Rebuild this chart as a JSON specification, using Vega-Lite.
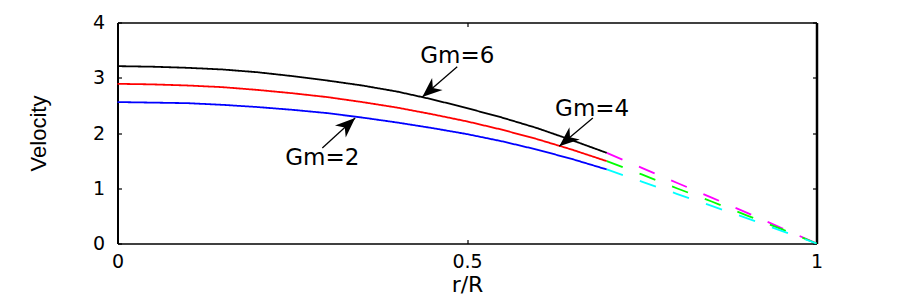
{
  "$schema": "https://vega.github.io/schema/vega-lite/v6.json",
  "width": 699,
  "height": 221,
  "autosize": {"type": "none"},
  "padding": {"left": 117.5, "top": 22.5, "right": 83.5, "bottom": 56.5},
  "background": "white",
  "config": {"view": {"stroke": null}},
  "datasets": {
    "curves": [
      {"curve": "Gm=6", "r": 0, "v": 3.21}, {"curve": "Gm=6", "r": 0.05, "v": 3.2}, {"curve": "Gm=6", "r": 0.1, "v": 3.18}, {"curve": "Gm=6", "r": 0.15, "v": 3.15}, {"curve": "Gm=6", "r": 0.2, "v": 3.1}, {"curve": "Gm=6", "r": 0.25, "v": 3.03}, {"curve": "Gm=6", "r": 0.3, "v": 2.95}, {"curve": "Gm=6", "r": 0.35, "v": 2.86}, {"curve": "Gm=6", "r": 0.4, "v": 2.75}, {"curve": "Gm=6", "r": 0.45, "v": 2.61}, {"curve": "Gm=6", "r": 0.5, "v": 2.45}, {"curve": "Gm=6", "r": 0.55, "v": 2.28}, {"curve": "Gm=6", "r": 0.6, "v": 2.09}, {"curve": "Gm=6", "r": 0.65, "v": 1.87}, {"curve": "Gm=6", "r": 0.7, "v": 1.64},
      {"curve": "Gm=4", "r": 0, "v": 2.89}, {"curve": "Gm=4", "r": 0.05, "v": 2.88}, {"curve": "Gm=4", "r": 0.1, "v": 2.86}, {"curve": "Gm=4", "r": 0.15, "v": 2.83}, {"curve": "Gm=4", "r": 0.2, "v": 2.78}, {"curve": "Gm=4", "r": 0.25, "v": 2.72}, {"curve": "Gm=4", "r": 0.3, "v": 2.65}, {"curve": "Gm=4", "r": 0.35, "v": 2.56}, {"curve": "Gm=4", "r": 0.4, "v": 2.46}, {"curve": "Gm=4", "r": 0.45, "v": 2.34}, {"curve": "Gm=4", "r": 0.5, "v": 2.21}, {"curve": "Gm=4", "r": 0.55, "v": 2.06}, {"curve": "Gm=4", "r": 0.6, "v": 1.89}, {"curve": "Gm=4", "r": 0.65, "v": 1.7}, {"curve": "Gm=4", "r": 0.7, "v": 1.49},
      {"curve": "Gm=2", "r": 0, "v": 2.56}, {"curve": "Gm=2", "r": 0.05, "v": 2.55}, {"curve": "Gm=2", "r": 0.1, "v": 2.54}, {"curve": "Gm=2", "r": 0.15, "v": 2.51}, {"curve": "Gm=2", "r": 0.2, "v": 2.47}, {"curve": "Gm=2", "r": 0.25, "v": 2.42}, {"curve": "Gm=2", "r": 0.3, "v": 2.36}, {"curve": "Gm=2", "r": 0.35, "v": 2.28}, {"curve": "Gm=2", "r": 0.4, "v": 2.19}, {"curve": "Gm=2", "r": 0.45, "v": 2.09}, {"curve": "Gm=2", "r": 0.5, "v": 1.98}, {"curve": "Gm=2", "r": 0.55, "v": 1.85}, {"curve": "Gm=2", "r": 0.6, "v": 1.7}, {"curve": "Gm=2", "r": 0.65, "v": 1.53}, {"curve": "Gm=2", "r": 0.7, "v": 1.34},
      {"curve": "Gm=6 extension", "r": 0.7, "v": 1.64}, {"curve": "Gm=6 extension", "r": 0.75, "v": 1.37}, {"curve": "Gm=6 extension", "r": 0.8, "v": 1.1}, {"curve": "Gm=6 extension", "r": 0.85, "v": 0.83}, {"curve": "Gm=6 extension", "r": 0.9, "v": 0.56}, {"curve": "Gm=6 extension", "r": 0.95, "v": 0.28}, {"curve": "Gm=6 extension", "r": 1, "v": 0},
      {"curve": "Gm=4 extension", "r": 0.7, "v": 1.49}, {"curve": "Gm=4 extension", "r": 0.75, "v": 1.25}, {"curve": "Gm=4 extension", "r": 0.8, "v": 1.0}, {"curve": "Gm=4 extension", "r": 0.85, "v": 0.76}, {"curve": "Gm=4 extension", "r": 0.9, "v": 0.51}, {"curve": "Gm=4 extension", "r": 0.95, "v": 0.26}, {"curve": "Gm=4 extension", "r": 1, "v": 0},
      {"curve": "Gm=2 extension", "r": 0.7, "v": 1.34}, {"curve": "Gm=2 extension", "r": 0.75, "v": 1.12}, {"curve": "Gm=2 extension", "r": 0.8, "v": 0.9}, {"curve": "Gm=2 extension", "r": 0.85, "v": 0.68}, {"curve": "Gm=2 extension", "r": 0.9, "v": 0.46}, {"curve": "Gm=2 extension", "r": 0.95, "v": 0.23}, {"curve": "Gm=2 extension", "r": 1, "v": 0}
    ],
    "notes": [
      {"label": "Gm=6", "tx": 0.486, "ty": 3.4, "x1": 0.486, "y1": 3.2, "x2": 0.436, "y2": 2.65},
      {"label": "Gm=4", "tx": 0.679, "ty": 2.43, "x1": 0.68, "y1": 2.27, "x2": 0.632, "y2": 1.76},
      {"label": "Gm=2", "tx": 0.293, "ty": 1.55, "x1": 0.293, "y1": 1.73, "x2": 0.34, "y2": 2.27}
    ],
    "frame": [{"x": 0, "y": 0}]
  },
  "layer": [
    {
      "layer": [
        {
          "data": {"name": "curves"},
          "mark": {"type": "line", "strokeWidth": 1.8, "clip": false},
          "encoding": {
            "x": {"field": "r", "type": "quantitative", "scale": {"domain": [0, 1]},
              "axis": {"values": [0, 0.5, 1], "format": "~g", "labelFlush": false, "grid": false,
                "domainColor": "black", "domainWidth": 1.5, "tickColor": "black", "tickWidth": 1.2, "tickSize": -4,
                "labelFont": "DejaVu Sans", "labelFontSize": 19, "labelColor": "black", "labelPadding": 13,
                "title": "r/R", "titleFont": "DejaVu Sans", "titleFontSize": 22, "titleFontWeight": "normal", "titleColor": "black", "titlePadding": 3}},
            "y": {"field": "v", "type": "quantitative", "scale": {"domain": [0, 4]},
              "axis": {"values": [0, 1, 2, 3, 4], "format": "d", "grid": false,
                "domainColor": "black", "domainWidth": 2, "tickColor": "black", "tickWidth": 1.2, "tickSize": -4,
                "labelFont": "DejaVu Sans", "labelFontSize": 19, "labelColor": "black", "labelPadding": 17,
                "title": "Velocity", "titleFont": "Liberation Sans", "titleFontSize": 22, "titleFontWeight": "normal", "titleColor": "black", "titlePadding": 42}},
            "color": {"field": "curve", "type": "nominal", "legend": null,
              "scale": {"domain": ["Gm=6", "Gm=4", "Gm=2", "Gm=6 extension", "Gm=4 extension", "Gm=2 extension"],
                "range": ["#000000", "#ff0000", "#0000ff", "#ff00ff", "#00ff00", "#00ffff"]}},
            "strokeDash": {"condition": {"test": "indexof(datum.curve, 'extension') >= 0", "value": [17, 18]}, "value": [1, 0]}
          }
        },
        {
          "data": {"name": "notes"},
          "mark": {"type": "rule", "color": "black", "strokeWidth": 1.3},
          "encoding": {
            "x": {"field": "x1", "type": "quantitative"},
            "y": {"field": "y1", "type": "quantitative"},
            "x2": {"field": "x2"},
            "y2": {"field": "y2"}
          }
        },
        {
          "data": {"name": "notes"},
          "transform": [{"calculate": "atan2((datum.x2 - datum.x1) * 699, (datum.y2 - datum.y1) * 55.25) * 180 / PI", "as": "ang"}],
          "mark": {"type": "point", "shape": "M0,0 L0.8,2 L0,1.4 L-0.8,2 Z", "filled": true, "color": "black", "opacity": 1, "size": 400},
          "encoding": {
            "x": {"field": "x2", "type": "quantitative"},
            "y": {"field": "y2", "type": "quantitative"},
            "angle": {"field": "ang", "type": "quantitative", "scale": null}
          }
        },
        {
          "data": {"name": "notes"},
          "mark": {"type": "text", "font": "DejaVu Sans", "fontSize": 23, "color": "black", "align": "center", "baseline": "middle"},
          "encoding": {
            "x": {"field": "tx", "type": "quantitative"},
            "y": {"field": "ty", "type": "quantitative"},
            "text": {"field": "label"}
          }
        }
      ]
    },
    {
      "data": {"name": "frame"},
      "mark": {"type": "point", "opacity": 0},
      "encoding": {
        "x": {"field": "x", "type": "quantitative", "scale": {"domain": [0, 1]},
          "axis": {"orient": "top", "values": [0, 0.5, 1], "labels": false, "title": null, "grid": false,
            "domainColor": "black", "domainWidth": 1.5, "tickColor": "black", "tickWidth": 1.2, "tickSize": -4}},
        "y": {"field": "y", "type": "quantitative", "scale": {"domain": [0, 4]},
          "axis": {"orient": "right", "values": [0, 1, 2, 3, 4], "labels": false, "title": null, "grid": false,
            "domainColor": "black", "domainWidth": 2.5, "tickColor": "black", "tickWidth": 1.2, "tickSize": -4}}
      }
    }
  ],
  "resolve": {"scale": {"x": "independent", "y": "independent"}}
}
